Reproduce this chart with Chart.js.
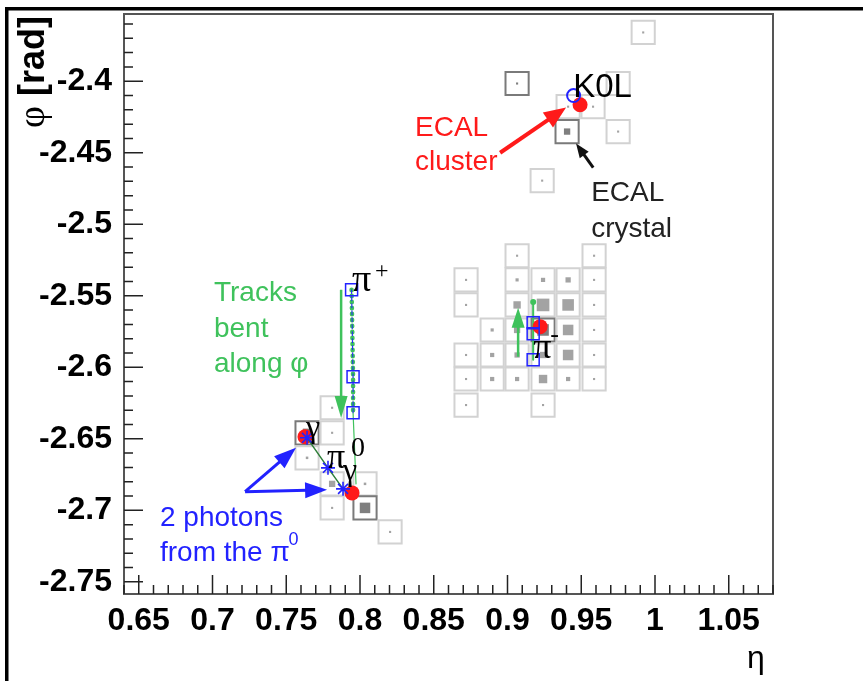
<!DOCTYPE html>
<html>
<head>
<meta charset="utf-8">
<script src="https://cdn.jsdelivr.net/npm/chart.js@4.4.1/dist/chart.umd.min.js"></script>
<style>
  html, body { margin: 0; padding: 0; background: #fff; }
  canvas { display: block; }
</style>
</head>
<body>
<canvas id="c" width="863" height="681"></canvas>
<script>
// axis ticks
const xTicks = [0.65, 0.7, 0.75, 0.8, 0.85, 0.9, 0.95, 1, 1.05];
const xTickLabels = ['0.65', '0.7', '0.75', '0.8', '0.85', '0.9', '0.95', '1', '1.05'];
const yTicks = [-2.4, -2.45, -2.5, -2.55, -2.6, -2.65, -2.7, -2.75];
const yTickLabels = ['-2.4', '-2.45', '-2.5', '-2.55', '-2.6', '-2.65', '-2.7', '-2.75'];

// ECAL crystals (eta, phi, energy, part of a cluster seed)
const crystalEta = [
  0.9920, 0.9065, 0.9411, 0.9580, 0.9750, 0.9404, 0.9750, 0.9235,
  0.9065, 0.9587,
  0.8719, 0.9065, 0.9241, 0.9411, 0.9587,
  0.8719, 0.9065, 0.9241, 0.9411, 0.9587,
  0.8896, 0.9065, 0.9241, 0.9411, 0.9587,
  0.8719, 0.8896, 0.9065, 0.9241, 0.9411, 0.9587,
  0.8719, 0.8896, 0.9065, 0.9241, 0.9411, 0.9587,
  0.8719, 0.9241,
  0.7811, 0.7641, 0.7811, 0.7641, 0.7811, 0.8034, 0.7811, 0.8034, 0.8204
];
const crystalPhi = [
  -2.3659, -2.4016, -2.4178, -2.4178, -2.4016, -2.4352, -2.4352, -2.4695,
  -2.5220, -2.5220,
  -2.5389, -2.5389, -2.5389, -2.5389, -2.5389,
  -2.5564, -2.5564, -2.5564, -2.5564, -2.5564,
  -2.5739, -2.5739, -2.5739, -2.5739, -2.5739,
  -2.5914, -2.5914, -2.5914, -2.5914, -2.5914, -2.5914,
  -2.6082, -2.6082, -2.6082, -2.6082, -2.6082, -2.6082,
  -2.6264, -2.6264,
  -2.6283, -2.6458, -2.6458, -2.6633, -2.6815, -2.6815, -2.6983, -2.6983, -2.7151
];
const crystalE = [
  0.10, 0.10, 0.10, 0.10, 0.10, 0.30, 0.10, 0.10,
  0.10, 0.10,
  0.10, 0.15, 0.20, 0.25, 0.10,
  0.10, 0.35, 0.60, 0.55, 0.10,
  0.15, 0.30, 0.55, 0.50, 0.10,
  0.10, 0.20, 0.25, 0.30, 0.50, 0.10,
  0.10, 0.20, 0.20, 0.40, 0.20, 0.10,
  0.10, 0.10,
  0.10, 0.40, 0.10, 0.12, 0.30, 0.12, 0.10, 0.50, 0.10
];
const crystalSeed = [
  0, 1, 0, 0, 0, 1, 0, 0,
  0, 0,
  0, 0, 0, 0, 0,
  0, 0, 0, 0, 0,
  0, 0, 1, 0, 0,
  0, 0, 0, 0, 0, 0,
  0, 0, 0, 0, 0, 0,
  0, 0,
  0, 1, 0, 0, 0, 0, 0, 1, 0
];

// ECAL clusters
const clusterEta = [0.9492, 0.7627, 0.7946, 0.9221];
const clusterPhi = [-2.4164, -2.6486, -2.6878, -2.5716];

// tracks
const piPlusEta = [0.7943, 0.7953, 0.7953];
const piPlusPhi = [-2.5458, -2.6066, -2.6318];
const piPlusEcalEta = [0.7953, 0.7973];
const piPlusEcalPhi = [-2.6318, -2.6815];
const piMinusEta = [0.9174, 0.9174, 0.9174];
const piMinusPhi = [-2.5689, -2.5766, -2.5948];
const piMinusStartEta = [0.9174];
const piMinusStartPhi = [-2.5543];

// photons, pi0, K0L
const photonEta = [0.7641, 0.7885];
const photonPhi = [-2.6493, -2.6850];
const pi0Eta = [0.7783];
const pi0Phi = [-2.6703];
const k0lEta = [0.9448];
const k0lPhi = [-2.4100];

const crystalSize = 0.0157;
const eFull = 1.1;

const pts = (xs, ys) => xs.map((x, i) => ({ x, y: ys[i] }));
const crystals = crystalEta.map((x, i) => ({ x, y: crystalPhi[i], e: crystalE[i], seed: crystalSeed[i] }));

function sidePx(chart, d) {
  const s = chart.scales.x;
  return Math.abs(s.getPixelForValue(d) - s.getPixelForValue(0));
}

const green = '#3fc25c';
const blue = '#2222ff';
const red = '#ff1a1a';

const arrows = [
  { from: [0.7872, -2.5458], to: [0.7872, -2.6355], color: green, w: 2.5, hl: 22, hw: 13 },
  { from: [0.9072, -2.5926], to: [0.9072, -2.5583], color: green, w: 2.5, hl: 20, hw: 13 },
  { from: [0.7221, -2.6870], to: [0.7566, -2.6563], color: blue, w: 3, hl: 22, hw: 16 },
  { from: [0.7221, -2.6870], to: [0.7777, -2.6856], color: blue, w: 3, hl: 22, hw: 16 },
  { from: [0.8950, -2.4500], to: [0.9397, -2.4184], color: red, w: 4, hl: 22, hw: 18 },
  { from: [0.9581, -2.4604], to: [0.9465, -2.4436], color: '#111', w: 3, hl: 14, hw: 11 }
];

const sans = '"Liberation Sans", Arial, sans-serif';
const serif = '"Liberation Serif", "DejaVu Serif", serif';
const labels = [
  { text: 'K0L', at: [0.9445, -2.4107], font: '33px ' + sans, color: '#000' },
  { text: 'ECAL', at: [0.8373, -2.4380], font: '28px ' + sans, color: red },
  { text: 'cluster', at: [0.8373, -2.4618], font: '28px ' + sans, color: red },
  { text: 'ECAL', at: [0.9567, -2.4835], font: '28px ' + sans, color: '#222' },
  { text: 'crystal', at: [0.9567, -2.5087], font: '28px ' + sans, color: '#222' },
  { text: 'Tracks', at: [0.7010, -2.5535], font: '28px ' + sans, color: green },
  { text: 'bent', at: [0.7010, -2.5787], font: '28px ' + sans, color: green },
  { text: 'along \u03c6', at: [0.7010, -2.6031], font: '28px ' + sans, color: green },
  { text: '2 photons', at: [0.6644, -2.7109], font: '28px ' + sans, color: blue },
  { text: 'from the \u03c0', at: [0.6644, -2.7354], font: '28px ' + sans, color: blue },
  { text: '0', at: [0.7515, -2.7245], font: '18px ' + sans, color: blue },
  { text: '\u03c0', at: [0.7946, -2.5465], font: '38px ' + serif, color: '#000' },
  { text: '+', at: [0.8102, -2.5374], font: '24px ' + serif, color: '#000' },
  { text: '\u03c0', at: [0.7777, -2.6703], font: '36px ' + serif, color: '#000' },
  { text: '0', at: [0.7939, -2.6619], font: '28px ' + serif, color: '#000' },
  { text: '\u03b3', at: [0.7634, -2.6486], font: '32px ' + serif, color: '#000' },
  { text: '\u03b3', at: [0.7885, -2.6788], font: '32px ' + serif, color: '#000' },
  { text: '\u03c0', at: [0.9174, -2.5934], font: '36px ' + serif, color: '#000' },
  { text: '-', at: [0.9289, -2.5822], font: '26px ' + serif, color: '#000' }
];

function drawArrow(ctx, x1, y1, x2, y2, a) {
  const ang = Math.atan2(y2 - y1, x2 - x1);
  const bx = x2 - a.hl * Math.cos(ang), by = y2 - a.hl * Math.sin(ang);
  ctx.save();
  ctx.strokeStyle = a.color;
  ctx.fillStyle = a.color;
  ctx.lineWidth = a.w;
  ctx.beginPath();
  ctx.moveTo(x1, y1);
  ctx.lineTo(bx + Math.cos(ang) * 2, by + Math.sin(ang) * 2);
  ctx.stroke();
  ctx.beginPath();
  ctx.moveTo(x2, y2);
  ctx.lineTo(bx + (a.hw / 2) * Math.sin(ang), by - (a.hw / 2) * Math.cos(ang));
  ctx.lineTo(bx - (a.hw / 2) * Math.sin(ang), by + (a.hw / 2) * Math.cos(ang));
  ctx.closePath();
  ctx.fill();
  ctx.restore();
}

const overlay = {
  id: 'overlay',
  afterDatasetsDraw(chart) {
    const ctx = chart.ctx, xs = chart.scales.x, ys = chart.scales.y;
    const px = v => xs.getPixelForValue(v), py = v => ys.getPixelForValue(v);
    arrows.forEach(a => drawArrow(ctx, px(a.from[0]), py(a.from[1]), px(a.to[0]), py(a.to[1]), a));
    ctx.save();
    ctx.textAlign = 'left';
    ctx.textBaseline = 'alphabetic';
    labels.forEach(l => {
      ctx.font = l.font;
      ctx.fillStyle = l.color;
      ctx.fillText(l.text, px(l.at[0]), py(l.at[1]));
    });
    ctx.restore();
  },
  afterDraw(chart) {
    const ctx = chart.ctx, area = chart.chartArea;
    const xs = chart.scales.x, ys = chart.scales.y;
    ctx.save();
    // frame
    ctx.strokeStyle = '#555';
    ctx.lineWidth = 2;
    ctx.strokeRect(area.left, area.top, area.right - area.left, area.bottom - area.top);
    // ticks inside the frame
    ctx.strokeStyle = '#222';
    ctx.lineWidth = 1.5;
    ctx.beginPath();
    for (let i = 64; i <= 108; i++) {
      const x = xs.getPixelForValue(i / 100);
      const len = i % 5 === 0 ? 19 : 9;
      ctx.moveTo(x, area.bottom);
      ctx.lineTo(x, area.bottom - len);
    }
    for (let i = 236; i <= 275; i++) {
      const y = ys.getPixelForValue(-i / 100);
      const len = i % 5 === 0 ? 19 : 9;
      ctx.moveTo(area.left, y);
      ctx.lineTo(area.left + len, y);
    }
    ctx.stroke();
    // axis titles
    ctx.fillStyle = '#000';
    ctx.save();
    ctx.translate(44, 16);
    ctx.rotate(-Math.PI / 2);
    ctx.textAlign = 'right';
    ctx.textBaseline = 'alphabetic';
    ctx.font = 'bold 36px ' + sans;
    ctx.fillText('[rad]', 0, 0);
    const w = ctx.measureText('[rad]').width;
    ctx.font = '38px ' + serif;
    ctx.fillText('\u03c6', -w - 10, 0);
    ctx.restore();
    ctx.font = '32px ' + sans;
    ctx.textAlign = 'left';
    ctx.fillText('\u03b7', 747, 668);
    // outer slide border
    ctx.fillRect(5, 7, 858, 3.5);
    ctx.fillRect(5, 7, 3.5, 674);
    ctx.restore();
  }
};

const lineDs = (data, color, width, dash, order) => ({
  data, showLine: true, fill: false, tension: 0, pointRadius: 0,
  borderColor: color, borderWidth: width, borderDash: dash, borderCapStyle: 'round', order
});

const noPad = s => { s.paddingTop = 0; s.paddingBottom = 0; s.paddingLeft = 0; s.paddingRight = 0; };

new Chart(document.getElementById('c'), {
  type: 'scatter',
  data: {
    datasets: [
      { // crystal outlines
        data: crystals, order: 20, pointStyle: 'rect',
        pointRadius: ctx => sidePx(ctx.chart, crystalSize) / Math.SQRT2,
        backgroundColor: 'rgba(0,0,0,0)',
        borderColor: ctx => ctx.raw && ctx.raw.seed ? '#7a7a7a' : '#d2d2d2',
        borderWidth: 2
      },
      { // energy deposits
        data: crystals, order: 19, pointStyle: 'rect',
        pointRadius: ctx => ctx.raw ? sidePx(ctx.chart, crystalSize * ctx.raw.e / eFull) / Math.SQRT2 : 0,
        backgroundColor: ctx => ctx.raw && ctx.raw.seed ? '#7f7f7f' : '#a3a3a3',
        borderWidth: 0
      },
      lineDs(pts(piPlusEta, piPlusPhi), green, 4.5, [0.5, 5.5], 15),
      lineDs(pts(piPlusEcalEta, piPlusEcalPhi), green, 1.2, [], 15),
      lineDs(pts(piPlusEta, piPlusPhi), blue, 1, [4, 3], 14),
      lineDs(pts(piMinusStartEta.concat(piMinusEta), piMinusStartPhi.concat(piMinusPhi)), green, 2, [], 15),
      { data: pts(piMinusStartEta, piMinusStartPhi), order: 15, pointStyle: 'circle', pointRadius: 3,
        backgroundColor: green, borderWidth: 0 },
      { // ECAL clusters
        data: pts(clusterEta, clusterPhi), order: 10, pointStyle: 'circle', pointRadius: 7.5,
        backgroundColor: red, borderWidth: 0
      },
      lineDs(pts([photonEta[0], pi0Eta[0], photonEta[1]], [photonPhi[0], pi0Phi[0], photonPhi[1]]), '#2f7f3a', 1.5, [], 8),
      { // track hits
        data: pts(piPlusEta.concat(piMinusEta), piPlusPhi.concat(piMinusPhi)), order: 6,
        pointStyle: 'rect', pointRadius: 8.5, backgroundColor: 'rgba(0,0,0,0)',
        borderColor: blue, borderWidth: 1.5
      },
      { // K0L
        data: pts(k0lEta, k0lPhi), order: 5, pointStyle: 'circle', pointRadius: 6.5,
        backgroundColor: 'rgba(0,0,0,0)', borderColor: blue, borderWidth: 2
      },
      { // photons and pi0
        data: pts(photonEta.concat(pi0Eta), photonPhi.concat(pi0Phi)), order: 3,
        pointStyle: 'star', pointRadius: 7, borderColor: blue, borderWidth: 1.6,
        backgroundColor: blue
      }
    ]
  },
  options: {
    responsive: false,
    animation: false,
    devicePixelRatio: 1,
    layout: { padding: { left: 0, top: 14, right: 90, bottom: 0 } },
    plugins: { legend: { display: false }, tooltip: { enabled: false } },
    events: [],
    scales: {
      x: {
        type: 'linear', position: 'bottom', min: 0.64, max: 1.08,
        grid: { display: false }, border: { display: false },
        afterBuildTicks: s => { s.ticks = xTicks.map(v => ({ value: v })); },
        afterFit: s => { s.height = 87; noPad(s); },
        ticks: {
          autoSkip: false, maxRotation: 0, padding: 0, color: '#000',
          font: { family: sans, size: 32, weight: 'bold' },
          callback: v => xTickLabels[xTicks.findIndex(t => Math.abs(t - v) < 1e-9)]
        }
      },
      y: {
        type: 'linear', position: 'left', min: -2.7585, max: -2.353,
        grid: { display: false }, border: { display: false },
        afterBuildTicks: s => { s.ticks = yTicks.map(v => ({ value: v })); },
        afterFit: s => { s.width = 124; noPad(s); },
        ticks: {
          autoSkip: false, padding: 4, color: '#000',
          font: { family: sans, size: 32, weight: 'bold' },
          callback: v => yTickLabels[yTicks.findIndex(t => Math.abs(t - v) < 1e-9)]
        }
      }
    }
  },
  plugins: [overlay]
});
</script>
</body>
</html>
